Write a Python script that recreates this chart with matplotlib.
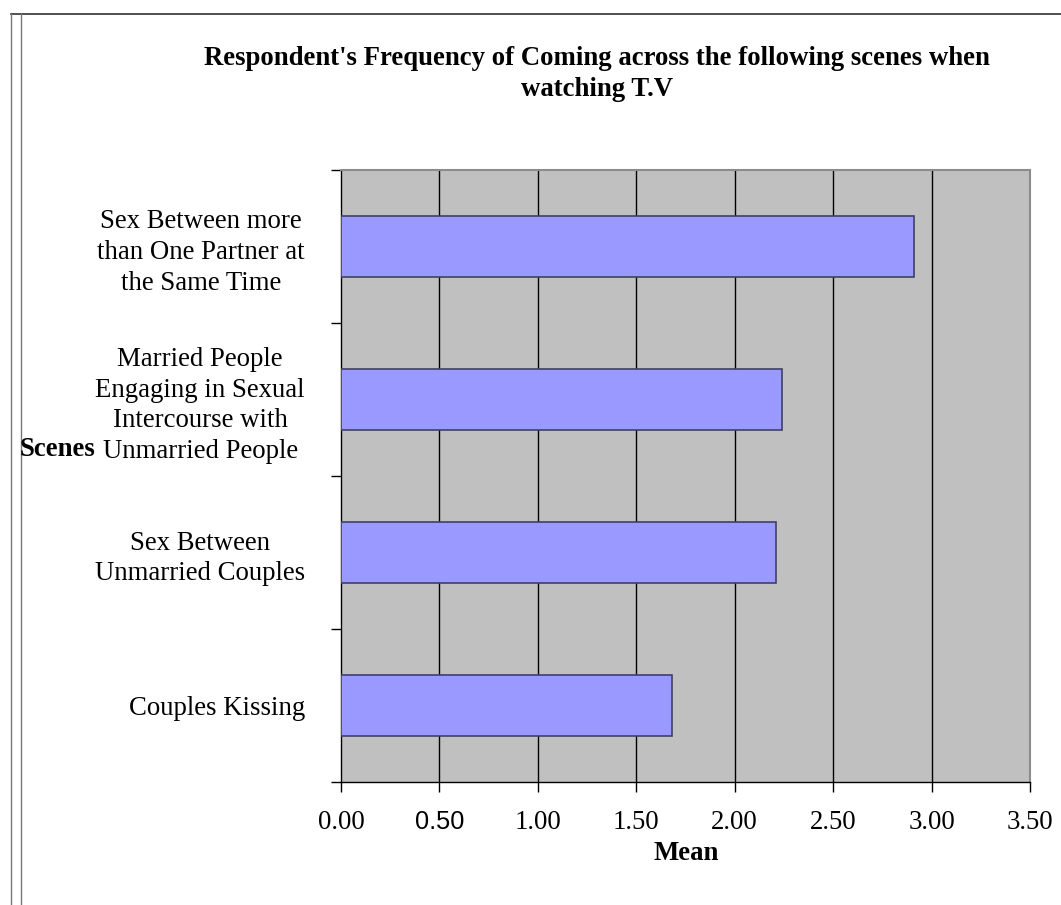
import matplotlib
matplotlib.use("Agg")
import matplotlib.pyplot as plt
from matplotlib.lines import Line2D

# Data
categories = [
    "Sex Between more\nthan One Partner at\nthe Same Time",
    "Married People\nEngaging in Sexual\nIntercourse with\nUnmarried People",
    "Sex Between\nUnmarried Couples",
    "Couples Kissing",
]
means = [2.91, 2.24, 2.21, 1.68]
x_ticks = [0.0, 0.5, 1.0, 1.5, 2.0, 2.5, 3.0, 3.5]
x_tick_labels = ["0.00", "0.50", "1.00", "1.50", "2.00", "2.50", "3.00", "3.50"]
title = "Respondent's Frequency of Coming across the following scenes when\nwatching T.V"

W, H = 1061, 905
DPI = 100
serif = ["Liberation Serif", "DejaVu Serif"]
plt.rcParams["font.family"] = serif
FS = 19.3

fig = plt.figure(figsize=(W / DPI, H / DPI), dpi=DPI)
fig.patch.set_facecolor("white")

# Outer frame lines
fig.add_artist(Line2D([11 / W, 1.0], [1 - 14 / H, 1 - 14 / H], transform=fig.transFigure,
                      color="#333333", lw=1.2))
for xp in (11, 21):
    fig.add_artist(Line2D([xp / W, xp / W], [0, 1 - 14 / H], transform=fig.transFigure,
                          color="#777777", lw=1.0))

# Plot area
left, right, top, bottom = 341, 1030, 170, 782
ax = fig.add_axes([left / W, 1 - bottom / H, (right - left) / W, (bottom - top) / H])
ax.set_facecolor("#C0C0C0")

n = len(categories)
ypos = list(range(n))
ax.barh(ypos, means, height=0.4, color="#9999FF", edgecolor="#3F3F66", linewidth=1.2, zorder=3)

ax.set_xlim(0, 3.5)
ax.set_ylim(n - 0.5, -0.5)

# Vertical gridlines
for xv in x_ticks[1:-1]:
    ax.axvline(xv, color="black", lw=1.0, zorder=1)

ax.set_xticks(x_ticks)
ax.set_xticklabels(x_tick_labels)
ax.tick_params(axis="x", direction="out", length=7, width=1, pad=13, labelsize=FS)
for lbl in ax.get_xticklabels():
    if lbl.get_text() == "0.50":
        lbl.set_family(["Liberation Sans", "DejaVu Sans"])
        lbl.set_fontsize(FS - 1)

# Category boundaries as major ticks, labels on centres as minor ticks
ax.set_yticks([i - 0.5 for i in range(n + 1)])
ax.set_yticklabels([])
ax.set_yticks(ypos, minor=True)
ax.set_yticklabels(categories, minor=True)
ax.tick_params(axis="y", which="major", direction="out", length=7, width=1)
ax.tick_params(axis="y", which="minor", length=0, pad=26, labelsize=FS)
for lbl in ax.get_yticklabels(minor=True):
    lbl.set_multialignment("center")
    lbl.set_linespacing(1.3)

for side in ("left", "bottom"):
    ax.spines[side].set_color("black")
    ax.spines[side].set_linewidth(1.0)
for side in ("top", "right"):
    ax.spines[side].set_color("#8C8C8C")
    ax.spines[side].set_linewidth(1.5)

# Title and axis titles
fig.text(597 / W, 1 - 74 / H, title, ha="center", va="center", fontsize=FS,
         fontweight="bold", linespacing=1.28)
fig.text(686 / W, 1 - 853 / H, "Mean", ha="center", va="center", fontsize=FS,
         fontweight="bold")
fig.text(20 / W, 1 - 449 / H, "Scenes", ha="left", va="center", fontsize=FS,
         fontweight="bold")

fig.savefig("out.png", dpi=DPI, facecolor="white")
